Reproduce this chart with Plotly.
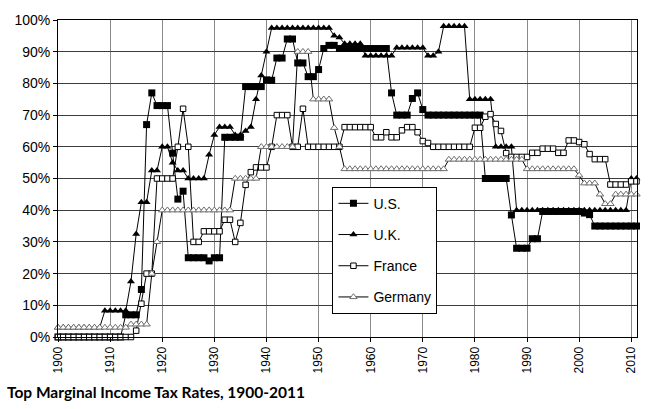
import plotly.graph_objects as go

years = list(range(1900, 2012))

us = [
    0, 0, 0, 0, 0, 0, 0, 0, 0, 0,                      # 1900-1909
    0, 0, 0, 7, 7, 7, 15, 67, 77, 73,                   # 1910-1919
    73, 73, 58, 43.5, 46, 25, 25, 25, 25, 24,           # 1920-1929
    25, 25, 63, 63, 63, 63, 79, 79, 79, 79,             # 1930-1939
    81.1, 81, 88, 88, 94, 94, 86.45, 86.45, 82.13, 82.13,  # 1940-1949
    84.36, 91, 92, 92, 91, 91, 91, 91, 91, 91,          # 1950-1959
    91, 91, 91, 91, 77, 70, 70, 70, 75.25, 77,          # 1960-1969
    71.75, 70, 70, 70, 70, 70, 70, 70, 70, 70,          # 1970-1979
    70, 70, 50, 50, 50, 50, 50, 38.5, 28, 28,           # 1980-1989
    28, 31, 31, 39.6, 39.6, 39.6, 39.6, 39.6, 39.6, 39.6,  # 1990-1999
    39.6, 39.1, 38.6, 35, 35, 35, 35, 35, 35, 35,       # 2000-2009
    35, 35,                                             # 2010-2011
]

uk = [
    3, 3, 3, 3, 3, 3, 3, 3, 3, 8.3,
    8.3, 8.3, 8.3, 8.3, 17.5, 32.5, 42.5, 42.5, 52.5, 52.5,
    60, 60, 55, 52.5, 52.5, 50, 50, 50, 50, 57.5,
    63.75, 66.25, 66.25, 66.25, 63.75, 63.75, 65, 66.25, 75, 82.5,
    90, 97.5, 97.5, 97.5, 97.5, 97.5, 97.5, 97.5, 97.5, 97.5,
    97.5, 97.5, 97.5, 95, 94.5, 92.5, 92.5, 92.5, 92.5, 88.75,
    88.75, 88.75, 88.75, 88.75, 88.75, 91.25, 91.25, 91.25, 91.25, 91.25,
    91.25, 88.75, 88.75, 90, 98, 98, 98, 98, 98, 75,
    75, 75, 75, 75, 60, 60, 60, 60, 40, 40,
    40, 40, 40, 40, 40, 40, 40, 40, 40, 40,
    40, 40, 40, 40, 40, 40, 40, 40, 40, 40,
    50, 50,
]

france = [
    0, 0, 0, 0, 0, 0, 0, 0, 0, 0,
    0, 0, 0, 0, 0, 2, 10.5, 20, 20, 50,
    50, 50, 50, 60, 72, 60, 30, 30, 33.33, 33.33,
    33.33, 33.33, 37, 37, 30, 36, 48, 52, 53.5, 53.5,
    53.5, 60, 70, 70, 70, 60, 60, 72, 60, 60,
    60, 60, 60, 60, 60, 66.2, 66.2, 66.2, 66.2, 66.2,
    66.2, 63, 63, 64.6, 63, 63, 65.2, 66.2, 66.2, 64.6,
    61.8, 61.2, 60, 60, 60, 60, 60, 60, 60, 60,
    66, 66, 69.5, 70.3, 67.2, 65, 58, 56.8, 56.8, 56.8,
    56.8, 58.1, 58.1, 59.4, 59.4, 59.4, 58.1, 58.1, 62, 62,
    61.5, 60.8, 57.7, 56.1, 56.1, 56.1, 48.1, 48.1, 48.1, 48.1,
    49.1, 49.1,
]

germany = [
    3, 3, 3, 3, 3, 3, 3, 3, 3, 3,
    3, 3, 3, 3, 4, 4, 4, 4, 20, 30,
    40, 40, 40, 40, 40, 40, 40, 40, 40, 40,
    40, 40, 40, 40, 50, 50, 50, 50, 50, 60,
    60, 60, 60, 60, 60, 60, 90, 90, 90, 75,
    75, 75, 75, 66, 60, 53, 53, 53, 53, 53,
    53, 53, 53, 53, 53, 53, 53, 53, 53, 53,
    53, 53, 53, 53, 53, 56, 56, 56, 56, 56,
    56, 56, 56, 56, 56, 56, 56, 56, 56, 56,
    53, 53, 53, 53, 53, 53, 53, 53, 53, 53,
    51, 48.5, 48.5, 48.5, 45, 42, 42, 45, 45, 45,
    45, 45,
]

x_tick_vals = [1900, 1910, 1920, 1930, 1940, 1950, 1960, 1970, 1980, 1990, 2000, 2010]
x_tick_labels = ["1900", "1910", "1920", "1930", "1940", "1950", "1960", "1970", "1980", "1990", "2000", "2010"]
y_tick_vals = [0, 10, 20, 30, 40, 50, 60, 70, 80, 90, 100]
y_tick_labels = ["0%", "10%", "20%", "30%", "40%", "50%", "60%", "70%", "80%", "90%", "100%"]

series = [
    ("U.S.", us, dict(symbol="square", size=7, color="black", line=dict(width=0))),
    ("U.K.", uk, dict(symbol="triangle-up", size=7, color="black", line=dict(width=0))),
    ("France", france, dict(symbol="square", size=5.5, color="white", line=dict(width=1, color="black"))),
    ("Germany", germany, dict(symbol="triangle-up", size=6.5, color="white", line=dict(width=1, color="#6e6e6e"))),
]

fig = go.Figure()
for name, vals, mk in series:
    fig.add_trace(go.Scatter(
        x=years, y=vals, name=name, mode="lines+markers",
        line=dict(color="black", width=1),
        marker=mk, cliponaxis=False, legendgroup=name,
    ))

FONT = "Liberation Sans, Arial, sans-serif"

fig.update_layout(
    width=650, height=409,
    margin=dict(l=58, r=12, t=14, b=72),
    paper_bgcolor="white", plot_bgcolor="white",
    showlegend=True,
    legend=dict(
        x=0.474, y=0.474, xanchor="left", yanchor="top",
        bgcolor="white", bordercolor="black", borderwidth=1,
        font=dict(family=FONT, size=14, color="black"),
        traceorder="grouped", tracegroupgap=10, itemwidth=30,
    ),
    font=dict(family=FONT, color="black"),
)

fig.update_xaxes(
    range=[1900, 2011.1],
    tickmode="array", tickvals=x_tick_vals, ticktext=x_tick_labels,
    tickangle=-90, tickfont=dict(family=FONT, size=12, color="black"),
    showgrid=True, gridcolor="#8a8a8a", gridwidth=1,
    showline=True, linecolor="black", linewidth=1, mirror=True,
    ticks="outside", ticklen=4, tickcolor="black",
    zeroline=False,
)
fig.update_yaxes(
    range=[0, 100],
    tickmode="array", tickvals=y_tick_vals, ticktext=y_tick_labels,
    tickfont=dict(family=FONT, size=14, color="black"),
    showgrid=True, gridcolor="#3c3c3c", gridwidth=1,
    showline=True, linecolor="black", linewidth=1, mirror=True,
    ticks="outside", ticklen=4, tickcolor="black",
    zeroline=False,
)

fig.add_annotation(
    text="<b>Top Marginal Income Tax Rates, 1900-2011</b>",
    xref="paper", yref="paper", x=-0.091, y=-0.175,
    xanchor="left", yanchor="middle", showarrow=False,
    font=dict(family="Lato, Open Sans, sans-serif", size=15.5, color="black"),
)

fig.write_html("out.html")
